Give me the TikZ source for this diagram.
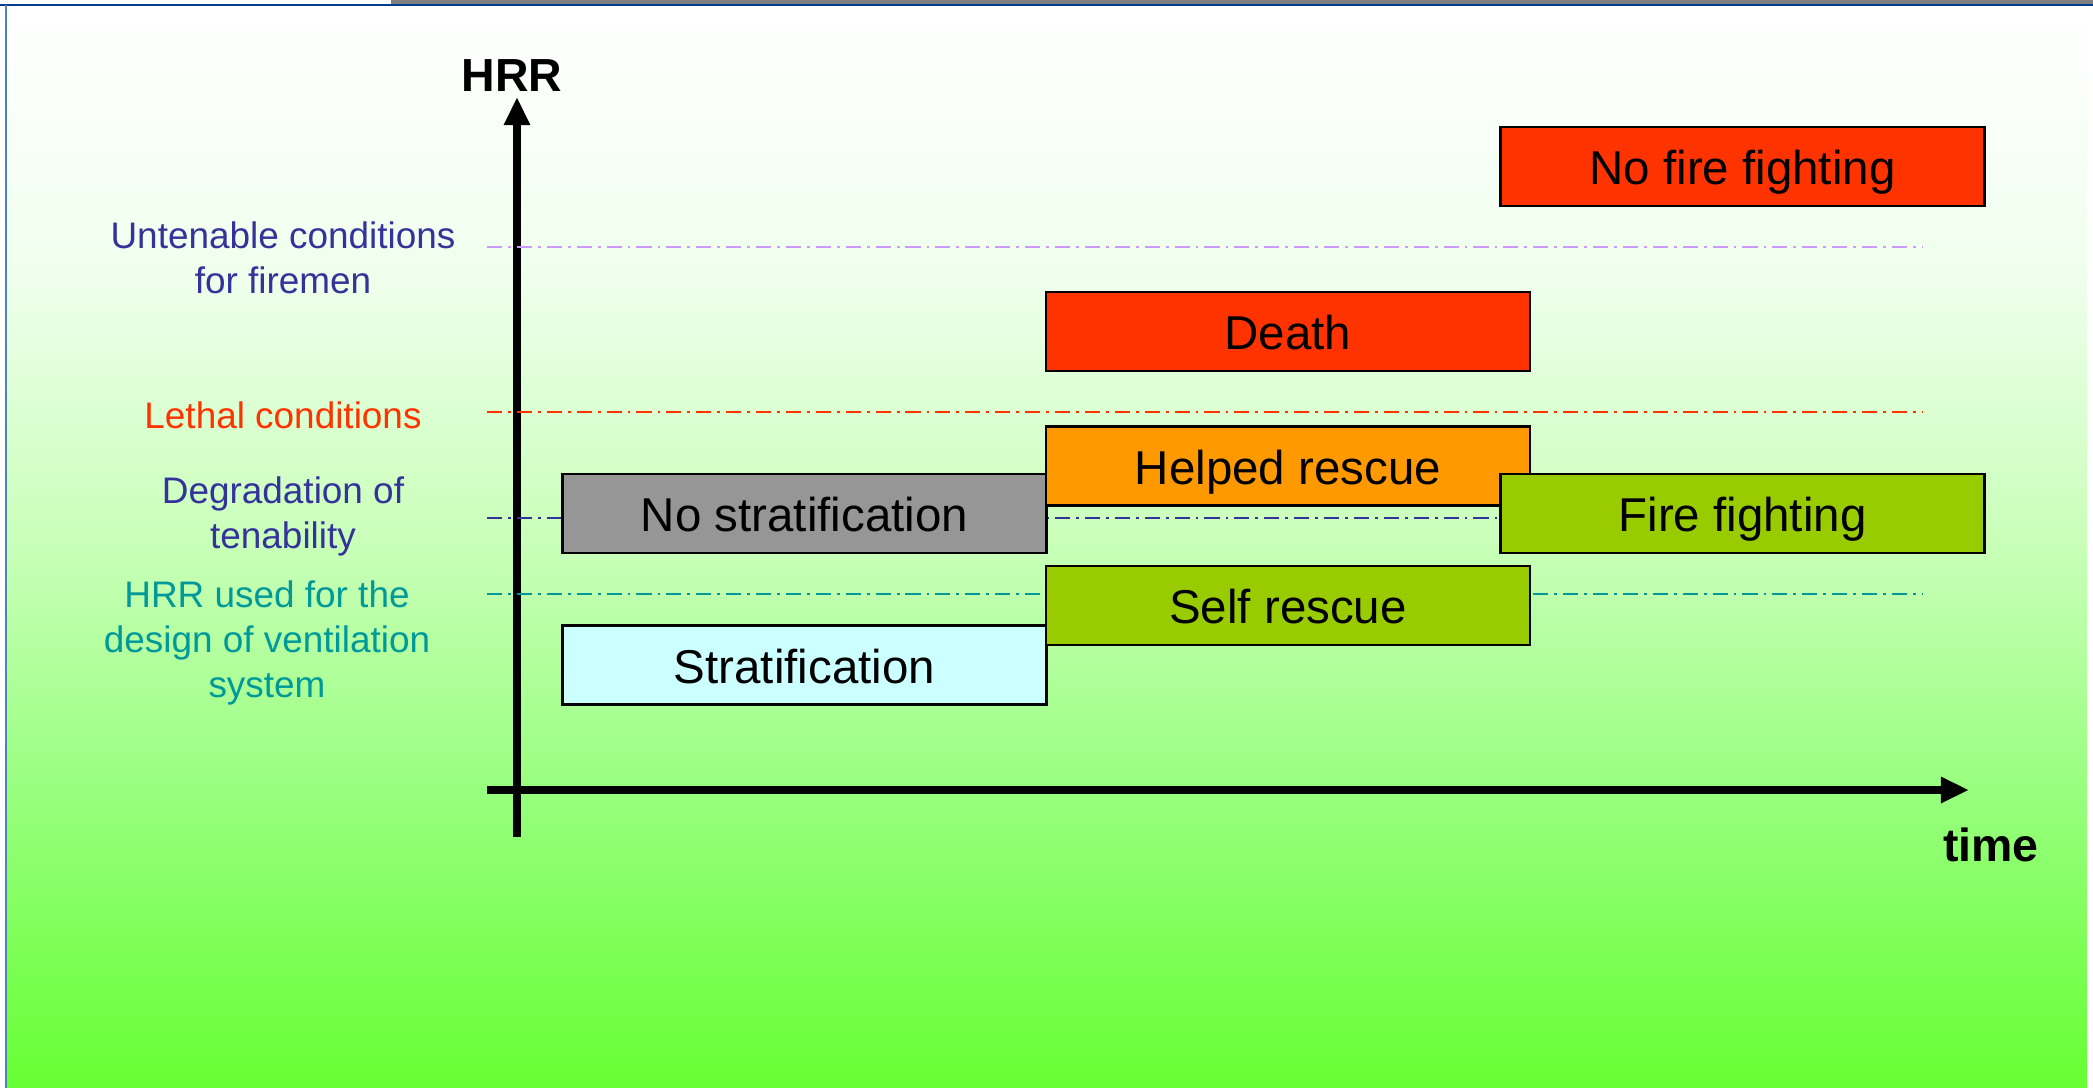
\documentclass[tikz,border=0pt]{standalone}
\usepackage{fontspec}
\setmainfont{Liberation Sans}
\usetikzlibrary{arrows.meta}

\definecolor{firered}{HTML}{FF3300}
\definecolor{rescueorange}{HTML}{FF9900}
\definecolor{fightgreen}{HTML}{99CC00}
\definecolor{stratgrey}{HTML}{969696}
\definecolor{stratcyan}{HTML}{CCFFFF}
\definecolor{tenablue}{HTML}{333399}
\definecolor{ventteal}{HTML}{009999}
\definecolor{lilac}{HTML}{CC99FF}
\definecolor{frameblue}{HTML}{003D8F}
\definecolor{edgeblue}{HTML}{4F81BD}
\definecolor{bargrey}{HTML}{808080}

% background: white at the top, bright green at the bottom
\pgfdeclareverticalshading{panel}{100bp}{%
  color(0bp)=(green!60!lime);
  color(25bp)=({rgb,255:red,102;green,255;blue,51});
  color(38bp)=({rgb,255:red,149;green,255;blue,122});
  color(50bp)=({rgb,255:red,200;green,255;blue,184});
  color(63bp)=({rgb,255:red,240;green,255;blue,238});
  color(75bp)=(white);
  color(100bp)=(white)}

\begin{document}
\begin{tikzpicture}[x=0.01cm,y=-0.01cm,
  stage/.style={draw=black, line width=0.7pt, minimum width=4.84cm, minimum height=0.79cm,
    inner sep=0pt, text height=10.4pt, text depth=0pt, font=\fontsize{13.5}{16}\selectfont},
  level/.style={line width=0.8pt, dash pattern=on 4.3pt off 1.7pt on 0.8pt off 1.7pt},
  levellabel/.style={align=center, font=\fontsize{10.5}{12.8}\selectfont},
  axis/.style={line width=2.3pt, -{Triangle[length=8pt,width=7pt]}},
  axislabel/.style={font=\fontsize{13.2}{15}\selectfont\bfseries}]
\useasboundingbox (0,0) rectangle (2093,1088);
\fill[white] (0,0) rectangle (2093,1088);
\shade[shading=panel] (7,6) rectangle (2087,1088);
\fill[bargrey] (391,0) rectangle (2093,4);
\draw[frameblue, line width=0.6pt] (0,5) -- (2093,5);
\draw[edgeblue, line width=0.3pt] (6,5) -- (6,1088);

% axes
\coordinate (yfoot) at (517,837);
\coordinate (ytip) at (517,97);
\coordinate (xfoot) at (487,790);
\coordinate (xtip) at (1969,790);
\draw[axis] (yfoot) -- (ytip);
\draw[axis] (xfoot) -- (xtip);
\node[axislabel] (hrr) at (512,76) {HRR};
\node[axislabel] (time) at (1991,845) {time};

% threshold levels
\foreach \lvl/\y/\col in {untenable/247/lilac, lethal/412/firered, degrad/518/tenablue, design/594/ventteal}{
  \coordinate (\lvl L) at (487,\y);
  \coordinate (\lvl R) at (1922,\y);
  \draw[level, \col] (\lvl L) -- (\lvl R);
}
\node[levellabel, text=tenablue] (untenabletext) at (283,258) {Untenable conditions\\for firemen};
\node[levellabel, text=firered] (lethaltext) at (283,415.5) {Lethal conditions};
\node[levellabel, text=tenablue] (degradtext) at (283,516) {Degradation of\\tenability};
\node[levellabel, text=ventteal] (designtext) at (267,643) {HRR used for the\\design of ventilation\\system};

% stages
\node[stage, fill=stratcyan] (strat) at (804.5,665) {Stratification};
\node[stage, fill=stratgrey] (nostrat) at (804.5,513.5) {No stratification};
\node[stage, fill=fightgreen] (selfres) at (1288,605.5) {Self rescue};
\node[stage, fill=rescueorange] (helped) at (1288,466) {Helped rescue};
\node[stage, fill=firered] (death) at (1288,331.5) {Death};
\node[stage, fill=fightgreen] (fight) at (1742.5,513.5) {Fire fighting};
\node[stage, fill=firered] (nofight) at (1742.5,166.5) {No fire fighting};

\end{tikzpicture}
\end{document}
